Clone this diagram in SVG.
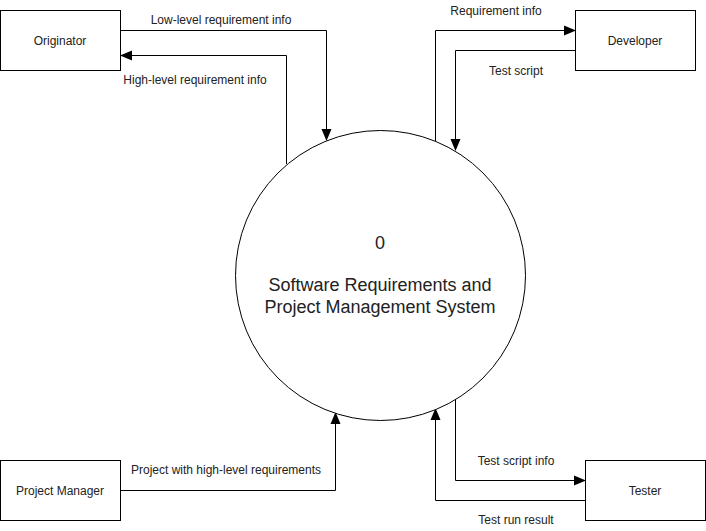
<svg xmlns="http://www.w3.org/2000/svg" width="706" height="531" viewBox="0 0 706 531">
<style>
.box{fill:#fff;stroke:#000;stroke-width:1}
.ln{fill:none;stroke:#000;stroke-width:1}
.t{font-family:"Liberation Sans",Arial,sans-serif;fill:#222;text-anchor:middle}
.lb{font-size:12px}
.nd{font-size:12px}
.big{font-size:18px}
</style>
<defs>
<marker id="arr" markerWidth="12" markerHeight="12" refX="11" refY="5.5" orient="auto" markerUnits="userSpaceOnUse" viewBox="0 0 12 11">
<path d="M0,0.5 L12,5.5 L0,10.5 Z" fill="#000"/>
</marker>
</defs>
<rect width="706" height="531" fill="#fff"/>
<g id="connectors">
<path class="ln" d="M120.5,30.5 H326.5 V140" marker-end="url(#arr)"/>
<path class="ln" d="M286.5,164 V55.5 H121" marker-end="url(#arr)"/>
<path class="ln" d="M435.5,141 V30.5 H575" marker-end="url(#arr)"/>
<path class="ln" d="M575.5,50.5 H455.5 V150" marker-end="url(#arr)"/>
<path class="ln" d="M120.5,490.5 H335.5 V413" marker-end="url(#arr)"/>
<path class="ln" d="M455.5,399 V480.5 H585" marker-end="url(#arr)"/>
<path class="ln" d="M585.5,500.5 H435.5 V409" marker-end="url(#arr)"/>
<text class="t lb" x="221" y="24">Low-level requirement info</text>
<text class="t lb" x="195" y="84">High-level requirement info</text>
<text class="t lb" x="496" y="15">Requirement info</text>
<text class="t lb" x="516" y="75">Test script</text>
<text class="t lb" x="226" y="474">Project with high-level requirements</text>
<text class="t lb" x="516" y="465">Test script info</text>
<text class="t lb" x="516" y="524">Test run result</text>
</g>
<g id="originator">
<rect class="box" x="0.5" y="10.5" width="120" height="60"/>
<text class="t nd" x="60" y="45">Originator</text>
</g>
<g id="developer">
<rect class="box" x="575.5" y="10.5" width="120" height="60"/>
<text class="t nd" x="635" y="45">Developer</text>
</g>
<g id="project-manager">
<rect class="box" x="0.5" y="460.5" width="120" height="60"/>
<text class="t nd" x="60" y="495">Project Manager</text>
</g>
<g id="tester">
<rect class="box" x="585.5" y="460.5" width="120" height="60"/>
<text class="t nd" x="645" y="495">Tester</text>
</g>
<g id="system">
<circle class="box" cx="380.5" cy="275.5" r="145"/>
<text class="t big" x="380" y="249">0</text>
<text class="t big" x="380" y="291">Software Requirements and</text>
<text class="t big" x="380" y="313">Project Management System</text>
</g>
</svg>
